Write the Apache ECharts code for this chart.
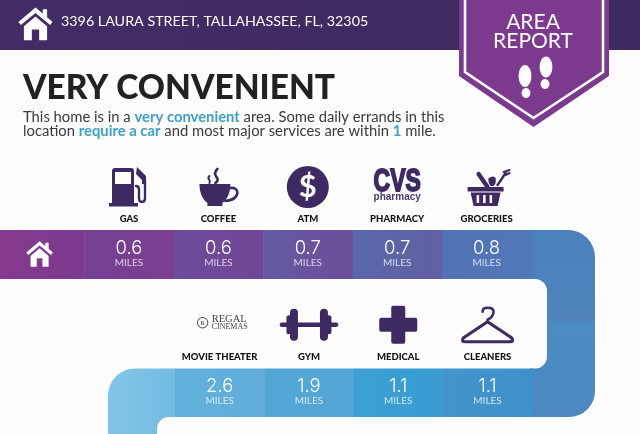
<!DOCTYPE html>
<html>
<head>
<meta charset="utf-8">
<style>html,body{margin:0;padding:0;background:#fdfdfd}#main{width:640px;height:434px}</style>
<script src="https://cdn.jsdelivr.net/npm/echarts@6/dist/echarts.min.js"></script>
</head>
<body>
<div id="main"></div>
<script>
// values
var topCategories = ['', 'GAS', 'COFFEE', 'ATM', 'PHARMACY', 'GROCERIES'];
var topMiles = [null, 0.6, 0.6, 0.7, 0.7, 0.8];
var bottomCategories = ['MOVIE THEATER', 'GYM', 'MEDICAL', 'CLEANERS'];
var bottomMiles = [2.6, 1.9, 1.1, 1.1];

var topColors = [['#85398f', '#7b3b8e'], ['#753f93', '#7a3f91'], ['#6e4b9b', '#714694'], ['#635ba3', '#6c4e98'], ['#5a67ab', '#615f9f'], ['#5372b5', '#4f79b8']];
var bottomColors = [['#62b0dc', '#60addb'], ['#52a7d7', '#54a6d6'], ['#3ca0d4', '#389cd2'], ['#4394cb', '#4091c9']];

var DARK = '#3e2a63';
var FONT = 'Lato';

function grad(a, b, vertical) {
    return { type: 'linear', x: 0, y: 0, x2: vertical ? 0 : 1, y2: vertical ? 1 : 0, colorStops: [{ offset: 0, color: a }, { offset: 1, color: b }] };
}

function path(d, fill) {
    return { type: 'path', shape: { pathData: d }, style: { fill: fill || DARK } };
}

function line(d, w) {
    return { type: 'path', shape: { pathData: d }, style: { fill: 'none', stroke: DARK, lineWidth: w, lineCap: 'round', lineJoin: 'round' } };
}

function label(text, x, y, font, fill) {
    return { type: 'text', style: { text: text, x: x, y: y, font: font, fill: fill || '#fff', textAlign: 'center', textVerticalAlign: 'middle' } };
}

function houseIcon(x, y, s) {
    return {
        type: 'group', x: x, y: y, scaleX: s, scaleY: s,
        children: [
            path('M0 -14 L6 -9 V-12.5 H9.5 V-6 L14 -2 L12 0.5 L0 -9.5 L-12 0.5 L-14 -2 Z', '#fff'),
            path('M-9.5 1.5 L0 -6.5 L9.5 1.5 V13 H3 V4 H-3 V13 H-9.5 Z', '#fff')
        ]
    };
}

// icons sit around (0,0), one list per category name
var icons = {
    'GAS': [
        path('M-17 -16 Q-17 -19 -14 -19 H2 Q5 -19 5 -16 V16 H-17 Z'),
        path('M-20 16 H9 V19.5 H-20 Z'),
        path('M-14 -15 H2 V-3 H-14 Z', '#fdfdfd'),
        line('M7 -1 Q10 -1 10 3 V11 Q10 15 13 15 Q16 15 16 11 V-7', 2.4),
        path('M8 -20 L17 -11 V-3 H13 V-7 L7 -13 Z')
    ],
    'COFFEE': [
        path('M-19 -3 H12 Q12 10 4 16 V19 H-11 V16 Q-19 10 -19 -3 Z'),
        line('M11 1 Q19 0 19 6 Q18 13 7 14', 2.6),
        line('M-1 -18 Q-5 -14 -2 -10 Q1 -7 -3 -4', 2.6),
        line('M-9 -11 Q-11 -9 -9 -7 Q-8 -6 -9 -4', 2)
    ],
    'ATM': [
        { type: 'circle', shape: { cx: 0, cy: 0, r: 21 }, style: { fill: DARK } },
        label('$', 0, 0, 'bold 31px ' + FONT)
    ],
    'PHARMACY': [
        { type: 'text', x: 0, y: -5, scaleX: 0.74, style: { text: 'CVS', x: 0, y: 0, font: 'bold 31px "Liberation Sans"', fill: DARK, stroke: DARK, lineWidth: 1.8, textAlign: 'center', textVerticalAlign: 'middle' } },
        label('pharmacy', 0, 10, 'bold 10px "Liberation Sans"', '#4a3a6c')
    ],
    'GROCERIES': [
        path('M-19 0 H17 V4.5 H-19 Z'),
        path('M-16 5.5 H14 L11 19 H-13 Z'),
        path('M-10 8 H-7.5 V16 H-10 Z M-3.5 8 H-1 V16 H-3.5 Z M3 8 H5.5 V16 H3 Z', '#fdfdfd'),
        line('M-8 -13 L1 0', 4.4),
        path('M2 -9 Q7 -12 9 -9 Q10 -4 7 -1 H4 Q1 -5 2 -9 Z'),
        line('M11 -2 L19 -14', 2.4),
        line('M17 -15 L23 -17 M19 -12 L23 -14', 2)
    ],
    'MOVIE THEATER': [
        { type: 'circle', shape: { cx: -17, cy: -2, r: 5.2 }, style: { fill: 'none', stroke: '#444', lineWidth: 1 } },
        label('R', -17, -2, '7px "Liberation Serif"', '#444'),
        { type: 'text', style: { text: 'REGAL', x: -8, y: -6, font: '10.5px "Liberation Serif"', fill: '#444', textAlign: 'left', textVerticalAlign: 'middle' } },
        { type: 'text', style: { text: 'CINEMAS', x: -8, y: 2, font: '8px "Liberation Serif"', fill: '#444', textAlign: 'left', textVerticalAlign: 'middle' } }
    ],
    'GYM': [
        line('M-27 0 H27', 4.6),
        line('M-15 -12 V12 M15 -12 V12', 8),
        line('M-20 -7 V7 M20 -7 V7', 5)
    ],
    'MEDICAL': [
        path('M-5 -19 H5 Q7 -19 7 -17 V-7 H17 Q19 -7 19 -5 V5 Q19 7 17 7 H7 V17 Q7 19 5 19 H-5 Q-7 19 -7 17 V7 H-17 Q-19 7 -19 5 V-5 Q-19 -7 -17 -7 H-7 V-17 Q-7 -19 -5 -19 Z')
    ],
    'CLEANERS': [
        line('M0 -3 L-24 13 Q-27 17 -22 17 H22 Q27 17 24 13 Z', 3.2),
        line('M0 -3 V-5 Q6 -8 6 -13 Q6 -17 0 -17 Q-5 -17 -5 -13', 2.6)
    ]
};

// one band cell with its miles figure and the icon above it
function renderCell(colors, centerBand) {
    return function (params, api) {
        var idx = api.value(0);
        var miles = api.value(1);
        var p = api.coord([idx, 0]);
        var size = api.size([1, 1]);
        var name = params.dataIndex;
        var cat = api.value(2);
        var children = [{
            type: 'rect',
            shape: { x: p[0] - size[0] / 2, y: p[1] - size[1] / 2, width: size[0] + 0.5, height: size[1] },
            style: { fill: grad(colors[name][0], colors[name][1]) }
        }];
        if (isNaN(miles)) {
            children.push(houseIcon(p[0], p[1], 0.95));
        } else {
            children.push(label(String(miles), p[0], p[1] - 6.5, '300 18.5px Inter'));
            children.push(label('MILES', p[0], p[1] + 8.5, '10px ' + FONT, 'rgba(255,255,255,0.75)'));
            children.push({ type: 'group', x: p[0], y: p[1] - centerBand, children: icons[catNames[cat]] });
        }
        return { type: 'group', children: children };
    };
}

var catNames = topCategories.concat(bottomCategories);

function renderDecor() {
    return {
        type: 'group',
        children: [
            // header
            { type: 'rect', shape: { x: 0, y: 0, width: 640, height: 50 }, style: { fill: grad('#432c66', '#3c2a60') } },
            houseIcon(35.5, 24.5, 1.22),
            { type: 'text', style: { text: '3396 LAURA STREET, TALLAHASSEE, FL, 32305', x: 61, y: 21, font: '14.3px ' + FONT, fill: '#fff', textVerticalAlign: 'middle' } },
            // badge
            path('M459 0 H609 V76 L533.5 127 L459 76 Z', '#7b3a8e'),
            { type: 'path', shape: { pathData: 'M465 0 V72 L533.5 118 L603 72 V0' }, style: { fill: 'none', stroke: '#fff', lineWidth: 2.6 } },
            label('AREA', 533, 22, '21px ' + FONT),
            label('REPORT', 533, 41, '21px ' + FONT),
            { type: 'ellipse', shape: { cx: 525, cy: 76, rx: 6.4, ry: 11 }, style: { fill: '#fff' } },
            { type: 'ellipse', shape: { cx: 526, cy: 93, rx: 4.4, ry: 5 }, style: { fill: '#fff' } },
            { type: 'ellipse', shape: { cx: 546, cy: 67, rx: 6.4, ry: 10.5 }, style: { fill: '#fff' } },
            { type: 'ellipse', shape: { cx: 545, cy: 84, rx: 4.4, ry: 5 }, style: { fill: '#fff' } },
            // the turns of the band
            path('M530 230 H568 A27 27 0 0 1 595 257 V321 H547 V291 A12 12 0 0 0 535 279 H530 Z', grad('#4a80bb', '#5083bb', true)),
            path('M547 321 H595 V391 A26 26 0 0 1 569 417 H530 V368.5 H535 A12 12 0 0 0 547 356.5 Z', grad('#4a8cc4', '#4d89c0', true)),
            path('M176 368.5 H135 A27 27 0 0 0 108 396 V434 H157 V430 A12 12 0 0 1 169 417 H176 Z', grad('#80c5e8', '#74bbe2'))
        ]
    };
}

function cellData(miles, offset) {
    return miles.map(function (m, i) {
        return [i, m === null ? '-' : m, i + offset];
    });
}

function axisText(margin) {
    return { show: true, interval: 0, margin: margin, color: '#111', fontFamily: FONT, fontWeight: 900, fontSize: 9.5 };
}

var option = {
    backgroundColor: '#fdfdfd',
    animation: false,
    title: {
        text: 'VERY CONVENIENT',
        left: 23,
        top: 71,
        padding: 0,
        itemGap: 5,
        textStyle: { color: '#222', fontFamily: FONT, fontWeight: 900, fontSize: 33.5 },
        subtext: 'This home is in a {b|very convenient} area. Some daily errands in this\nlocation {b|require a car} and most major services are within {b|1} mile.',
        subtextStyle: {
            color: '#3a3a3a', fontFamily: FONT, fontSize: 14.8, lineHeight: 14,
            rich: { b: { color: '#3f9fc6', fontFamily: FONT, fontWeight: 'bold', fontSize: 14.8, lineHeight: 14 } }
        }
    },
    grid: [
        { left: -5.1, top: 230, width: 536.4, height: 49, outerBoundsMode: 'none' },
        { left: 175, top: 368.5, width: 357.2, height: 48.5, outerBoundsMode: 'none' }
    ],
    xAxis: [
        { type: 'category', gridIndex: 0, position: 'top', data: topCategories, axisLine: { show: false }, axisTick: { show: false }, axisLabel: axisText(6) },
        { type: 'category', gridIndex: 1, position: 'top', data: bottomCategories, axisLine: { show: false }, axisTick: { show: false }, axisLabel: axisText(7) }
    ],
    yAxis: [
        { type: 'category', gridIndex: 0, data: ['band'], show: false },
        { type: 'category', gridIndex: 1, data: ['band'], show: false }
    ],
    series: [
        { type: 'custom', coordinateSystem: 'none', silent: true, z: 1, renderItem: renderDecor, data: [0] },
        { type: 'custom', xAxisIndex: 0, yAxisIndex: 0, z: 2, renderItem: renderCell(topColors, 67.5), encode: { x: 0 }, data: cellData(topMiles, 0) },
        { type: 'custom', xAxisIndex: 1, yAxisIndex: 1, z: 2, renderItem: renderCell(bottomColors, 68), encode: { x: 0 }, data: cellData(bottomMiles, topCategories.length) }
    ]
};

var chart = echarts.init(document.getElementById('main'));
chart.setOption(option);
</script>
</body>
</html>
